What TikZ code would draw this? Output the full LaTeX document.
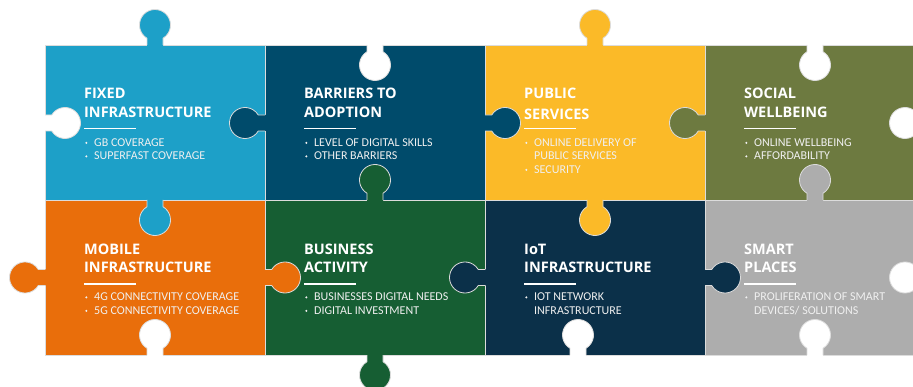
\documentclass[tikz,border=0pt]{standalone}
\usepackage{fontspec}
\setmainfont{Carlito}
\newfontfamily\headfont{Open Sans}
\definecolor{cblue}{HTML}{1DA0C8}
\definecolor{cdark}{HTML}{004B6B}
\definecolor{cyellow}{HTML}{FBBA28}
\definecolor{colive}{HTML}{6D7A40}
\definecolor{corange}{HTML}{E96E0B}
\definecolor{cgreen}{HTML}{165E33}
\definecolor{cnavy}{HTML}{0B3049}
\definecolor{cgrey}{HTML}{ADADAD}
\definecolor{cedge}{HTML}{DCDCDC}
\tikzset{
 edge/.style={draw=cedge, line width=0.8pt},
 head/.style={anchor=base west, inner sep=0pt, text=white, font=\headfont\bfseries\fontsize{14.5}{17}\selectfont},
 item/.style={anchor=base west, inner sep=0pt, text=white!94!black, font=\fontsize{12}{14}\selectfont},
 bdot/.style={fill=white!94!black},
 hrule/.style={draw=white, line width=1.3pt},
}
\newcommand{\knob}[4]{\begin{scope}[shift={(#1,#2)},rotate=#3]
 \fill[#4] (-1.5,-8) -- (6.72,-8) arc[start angle=211.07,end angle=508.93,radius=15.5] -- (-1.5,8) -- cycle;
 \draw[edge] (0,-8) -- (6.72,-8) arc[start angle=211.07,end angle=508.93,radius=15.5] -- (0,8);
\end{scope}}
\newcommand{\bul}[4]{\fill[bdot] (#1+2.3,#2-3.6) circle[radius=1.15];
 \node[item] (#3) at (#1+10,#2) {#4};}
\newcommand{\cont}[4]{\node[item] (#3) at (#1+10,#2) {#4};}
\begin{document}
\begin{tikzpicture}[x=1pt,y=-1pt]
\useasboundingbox (0,0) rectangle (913,387);
\clip (0,0) rectangle (913,387);
% tiles
\path[edge, fill=cblue]   (45,45)   rectangle (265,200);
\path[edge, fill=cdark]   (265,45)  rectangle (485,200);
\path[edge, fill=cyellow] (485,45)  rectangle (705,200);
\path[edge, fill=colive]  (705,45)  rectangle (925,200);
\path[edge, fill=corange] (45,200)  rectangle (265,355);
\path[edge, fill=cgreen]  (265,200) rectangle (485,355);
\path[edge, fill=cnavy]   (485,200) rectangle (705,355);
\path[edge, fill=cgrey]   (705,200) rectangle (925,355);
% knobs and holes
\knob{155}{45}{90}{cblue}
\knob{45}{123}{0}{white}
\knob{265}{123}{180}{cdark}
\knob{155}{200}{-90}{cblue}
\knob{375}{45}{-90}{white}
\knob{485}{123}{0}{cdark}
\knob{375}{200}{90}{cgreen}
\knob{595}{45}{90}{cyellow}
\knob{705}{123}{180}{colive}
\knob{595}{200}{-90}{cyellow}
\knob{815}{45}{-90}{white}
\knob{925}{123}{180}{white}
\knob{815}{200}{90}{cgrey}
\knob{45}{277.5}{180}{corange}
\knob{265}{277.5}{0}{corange}
\knob{155}{355}{90}{white}
\knob{485}{277.5}{180}{cnavy}
\knob{375}{355}{-90}{cgreen}
\knob{705}{277.5}{0}{cnavy}
\knob{578}{355}{90}{white}
\knob{925}{277.5}{180}{white}
\knob{815}{355}{90}{white}
% tile 1
\node[head] (h1a) at (84,99) {FIXED};
\node[head] (h1b) at (84,117.5) {INFRASTRUCTURE};
\draw[hrule] (84,128.5) -- (136,128.5);
\bul{84}{146.5}{i1a}{GB COVERAGE}
\bul{84}{160}{i1b}{SUPERFAST COVERAGE}
% tile 2
\node[head] (h2a) at (304,99) {BARRIERS TO};
\node[head] (h2b) at (304,117.5) {ADOPTION};
\draw[hrule] (304,128.5) -- (356,128.5);
\bul{304}{146.5}{i2a}{LEVEL OF DIGITAL SKILLS}
\bul{304}{160}{i2b}{OTHER BARRIERS}
% tile 3
\node[head] (h3a) at (524,99) {PUBLIC};
\node[head] (h3b) at (524,120) {SERVICES};
\draw[hrule] (524,128.5) -- (576,128.5);
\bul{524}{146.5}{i3a}{ONLINE DELIVERY OF}
\cont{524}{160}{i3b}{PUBLIC SERVICES}
\bul{524}{173.5}{i3c}{SECURITY}
% tile 4
\node[head] (h4a) at (744,99) {SOCIAL};
\node[head] (h4b) at (744,117.5) {WELLBEING};
\draw[hrule] (744,128.5) -- (796,128.5);
\bul{744}{146.5}{i4a}{ONLINE WELLBEING}
\bul{744}{160}{i4b}{AFFORDABILITY}
% tile 5
\node[head] (h5a) at (84,255) {MOBILE};
\node[head] (h5b) at (84,273) {INFRASTRUCTURE};
\draw[hrule] (84,284) -- (136,284);
\bul{84}{301}{i5a}{4G CONNECTIVITY COVERAGE}
\bul{84}{314.5}{i5b}{5G CONNECTIVITY COVERAGE}
% tile 6
\node[head] (h6a) at (304,255) {BUSINESS};
\node[head] (h6b) at (304,273) {ACTIVITY};
\draw[hrule] (304,284) -- (356,284);
\bul{304}{301}{i6a}{BUSINESSES DIGITAL NEEDS}
\bul{304}{314.5}{i6b}{DIGITAL INVESTMENT}
% tile 7
\node[head] (h7a) at (524,255) {IoT};
\node[head] (h7b) at (524,273) {INFRASTRUCTURE};
\draw[hrule] (524,284) -- (576,284);
\bul{524}{301}{i7a}{IOT NETWORK}
\cont{524}{314.5}{i7b}{INFRASTRUCTURE}
% tile 8
\node[head] (h8a) at (744,255) {SMART};
\node[head] (h8b) at (744,273) {PLACES};
\draw[hrule] (744,284) -- (796,284);
\bul{744}{301}{i8a}{PROLIFERATION OF SMART}
\cont{744}{314.5}{i8b}{DEVICES/ SOLUTIONS}
\end{tikzpicture}
\end{document}
